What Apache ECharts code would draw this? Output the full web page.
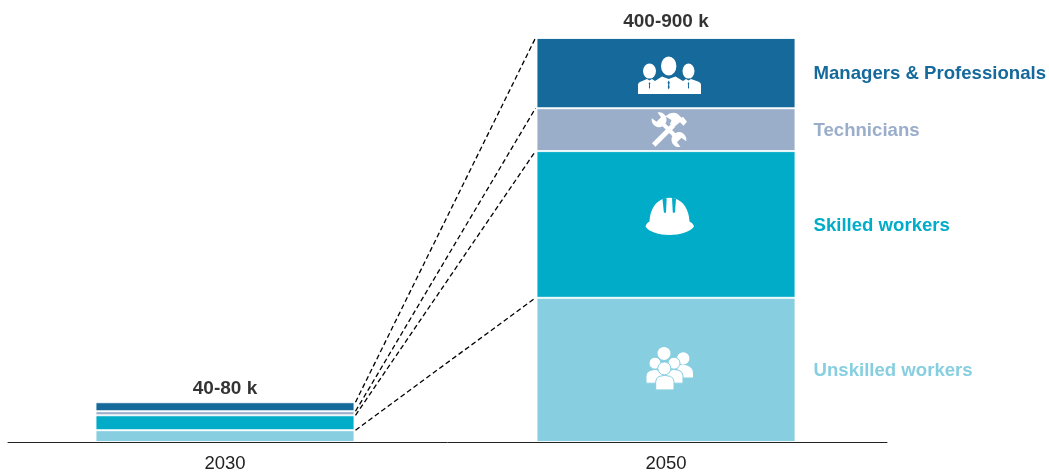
<!DOCTYPE html>
<html>
<head>
<meta charset="utf-8">
<style>html,body{margin:0;padding:0;background:#fff}#chart{width:1049px;height:474px}</style>
<script src="https://cdn.jsdelivr.net/npm/echarts@6/dist/echarts.min.js"></script>
</head>
<body>
<div id="chart"></div>
<script>
// Job estimates (thousands) by occupational group, midpoints of each range
const years = ['2030', '2050'];
const managers = [14.5, 113];
const technicians = [6.5, 69];
const skilled = [24, 236];
const unskilled = [19, 232];
const totalLabels = ['40-80 k', '400-900 k'];
const groupNames = ['Unskilled workers', 'Skilled workers', 'Technicians', 'Managers & Professionals'];
const groupValues = [unskilled, skilled, technicians, managers];
const groupColors = ['#87cfe0', '#00acc8', '#9aaeca', '#156a9b'];

const font = '"Liberation Sans", Arial, sans-serif';
const barWidth = 259;
const sum = (i, upTo) => groupValues.slice(0, upTo).reduce((t, g) => t + g[i], 0);

// White glyphs placed on the 2050 column; coordinates are local to each glyph box
const glyphs = {
  managers: { w: 63, h: 39, dx: 3.5, dy: 2, layers: [{ d:
    'M23 10.3A7.7 9.5 0 1 1 38.4 10.3A7.7 9.5 0 1 1 23 10.3Z' +
    'M5 15.5A6.5 7.5 0 1 1 18 15.5A6.5 7.5 0 1 1 5 15.5Z' +
    'M44.5 15.5A6 7.5 0 1 1 56.5 15.5A6 7.5 0 1 1 44.5 15.5Z' +
    'M0 38.5V29Q0 27 3 26L9 23.5L11.5 25L14 23.5L17 25.5L24 21L30.7 23.5L37.5 21L45 25.5L48 23.5L50.5 25L53 23.5L60 26Q63 27 63 29V38.5Z' +
    'M30.7 25L29.6 27L30.2 29L29.8 32L30.7 34L31.6 32L31.2 29L31.8 27Z' +
    'M11.5 26.5L10.7 28L11.1 29.5L10.9 32L11.5 33.5L12.1 32L11.9 29.5L12.3 28Z' +
    'M50.5 26.5L49.7 28L50.1 29.5L49.9 32L50.5 33.5L51.1 32L50.9 29.5L51.3 28Z' }] },
  tools: { w: 35, h: 35, dx: 3, dy: 0, layers: [{ d:
    'M0.5 31L20 11.5L23.5 15L4 34.5Z' +
    'M14 4Q20 -1 26 1.5L30 5.5L31.5 4.5L35.5 9.5L32 13.5L28.5 10L26.5 11.5L22 15.5L18.5 11.5L20 8Z' +
    'M6 0.3A7.5 7.5 0 1 1 0.3 6L5 9.5L9.5 5Z' +
    'M10.5 8L28 25L25 28L8 11Z' +
    'M29 34.7A7.5 7.5 0 1 1 34.7 29L30 25.5L25.5 30Z' }] },
  helmet: { w: 49, h: 38, dx: 3.5, dy: -8.5, layers: [{ d:
    'M0.5 29.5C1 27 3 25 4.5 24.5C5 12 11 4 19 1.5Q24.5 0 30 1.5C38 4 44 12 44.5 24.5C46 25 48.5 27 49 29.5C45 35 35 38 24.5 38C14 38 4 35 0.5 29.5Z' +
    'M17.5 2L18.8 15Q19.5 16.5 21 15.5L21.7 1Z' +
    'M27 1L27.8 15.5Q29.3 16.5 30 15L31 2Z' }] },
  crowd: { w: 48, h: 43, dx: 3, dy: -1.5, layers: [
    { d:
      'M12.5 6.5A6.5 6.5 0 1 1 25.5 6.5A6.5 6.5 0 1 1 12.5 6.5Z' +
      'M32 11.5A6.2 6.2 0 1 1 44.4 11.5A6.2 6.2 0 1 1 32 11.5Z' +
      'M32 19Q38 16.5 43 19Q48 21 48 26V30.7L34 30.7Z' },
    { stroke: true, d:
      'M4 16.3A6 6 0 1 1 16 16.3A6 6 0 1 1 4 16.3Z' +
      'M1 36.3V29Q1 25 5 23.5Q10 21.5 15 23.5Q18 25 18 29V36.3Z' +
      'M23 16.3A6 6 0 1 1 35 16.3A6 6 0 1 1 23 16.3Z' +
      'M21 36.3V29Q21 25 24 23.5Q29 21.5 34 23.5Q38 25 38 29V36.3Z' },
    { stroke: true, d:
      'M12.8 21.5A6.5 6.5 0 1 1 25.8 21.5A6.5 6.5 0 1 1 12.8 21.5Z' +
      'M10.7 43V35Q10.7 31 14 29.5Q19.5 27.5 25.5 29.5Q29 31 29 35V43Z' }
  ] }
};
const glyphOrder = ['crowd', 'helmet', 'tools', 'managers'];

const barSeries = groupNames.map((name, g) => ({
  name,
  type: 'bar',
  stack: 'jobs',
  barWidth,
  z: 3,
  itemStyle: { color: groupColors[g], borderColor: 'rgba(255,255,255,0.85)', borderWidth: 1 },
  data: [
    groupValues[g][0],
    {
      value: groupValues[g][1],
      label: {
        show: true, position: 'right', distance: 18, offset: [0, 1], formatter: name,
        fontFamily: font, fontWeight: 'bold', fontSize: 18.6, color: groupColors[g]
      }
    }
  ]
}));

// Dashed connectors between the top edge of each group in the two columns
const connectorData = groupNames.map((_, g) => [sum(0, g + 1), sum(1, g + 1)]);
const connectorSeries = {
  type: 'custom',
  z: 2,
  silent: true,
  encode: { y: [0, 1] },
  data: connectorData,
  renderItem(params, api) {
    const half = barWidth / 2 + 1;
    const a = api.coord([0, api.value(0)]);
    const b = api.coord([1, api.value(1)]);
    return {
      type: 'line',
      shape: { x1: a[0] + half, y1: a[1], x2: b[0] - half, y2: b[1] },
      style: { stroke: '#000', lineWidth: 1.3, lineDash: [5, 3], fill: null }
    };
  }
};

// Icons centred on the 2050 segments
const glyphSeries = {
  type: 'custom',
  z: 5,
  silent: true,
  encode: { x: 0, y: 1 },
  data: glyphOrder.map((_, g) => [1, sum(1, g) + groupValues[g][1] / 2, g]),
  renderItem(params, api) {
    const g = api.value(2);
    const glyph = glyphs[glyphOrder[g]];
    const c = api.coord([api.value(0), api.value(1)]);
    return {
      type: 'group',
      x: c[0] + glyph.dx - glyph.w / 2,
      y: c[1] + glyph.dy - glyph.h / 2,
      children: glyph.layers.map(l => ({
        type: 'path',
        shape: { pathData: l.d },
        style: l.stroke
          ? { fill: '#fff', stroke: groupColors[g], lineWidth: 1 }
          : { fill: '#fff' }
      }))
    };
  }
};

// Range captions above each column
const totalSeries = {
  type: 'scatter',
  symbolSize: 0,
  z: 6,
  silent: true,
  data: years.map((y, i) => ({
    value: [i, sum(i, groupValues.length)],
    label: {
      show: true, position: 'top', distance: i ? 7 : 4, formatter: totalLabels[i],
      fontFamily: font, fontWeight: 'bold', fontSize: 19, color: '#000'
    }
  }))
};

const chart = echarts.init(document.getElementById('chart'), null, { renderer: 'canvas' });
chart.setOption({
  animation: false,
  backgroundColor: '#fff',
  grid: [
    { left: 4.5, width: 882, top: 38, height: 404 },
    { left: 8, width: 879, top: 38, height: 404 }
  ],
  xAxis: [
    {
      type: 'category', data: years, gridIndex: 0,
      axisLine: { show: false }, axisTick: { show: false },
      axisLabel: { fontFamily: font, fontSize: 18.5, color: '#222', margin: 12 }
    },
    {
      // Baseline, slightly narrower than the plotting band
      type: 'category', data: [], gridIndex: 1,
      axisLine: { show: true, lineStyle: { color: '#222', width: 1 } },
      axisTick: { show: false }, axisLabel: { show: false }
    }
  ],
  yAxis: [
    { type: 'value', min: 0, max: 650, gridIndex: 0, show: false },
    { type: 'value', min: 0, max: 650, gridIndex: 1, show: false }
  ],
  series: [connectorSeries, ...barSeries, glyphSeries, totalSeries]
});
</script>
</body>
</html>
